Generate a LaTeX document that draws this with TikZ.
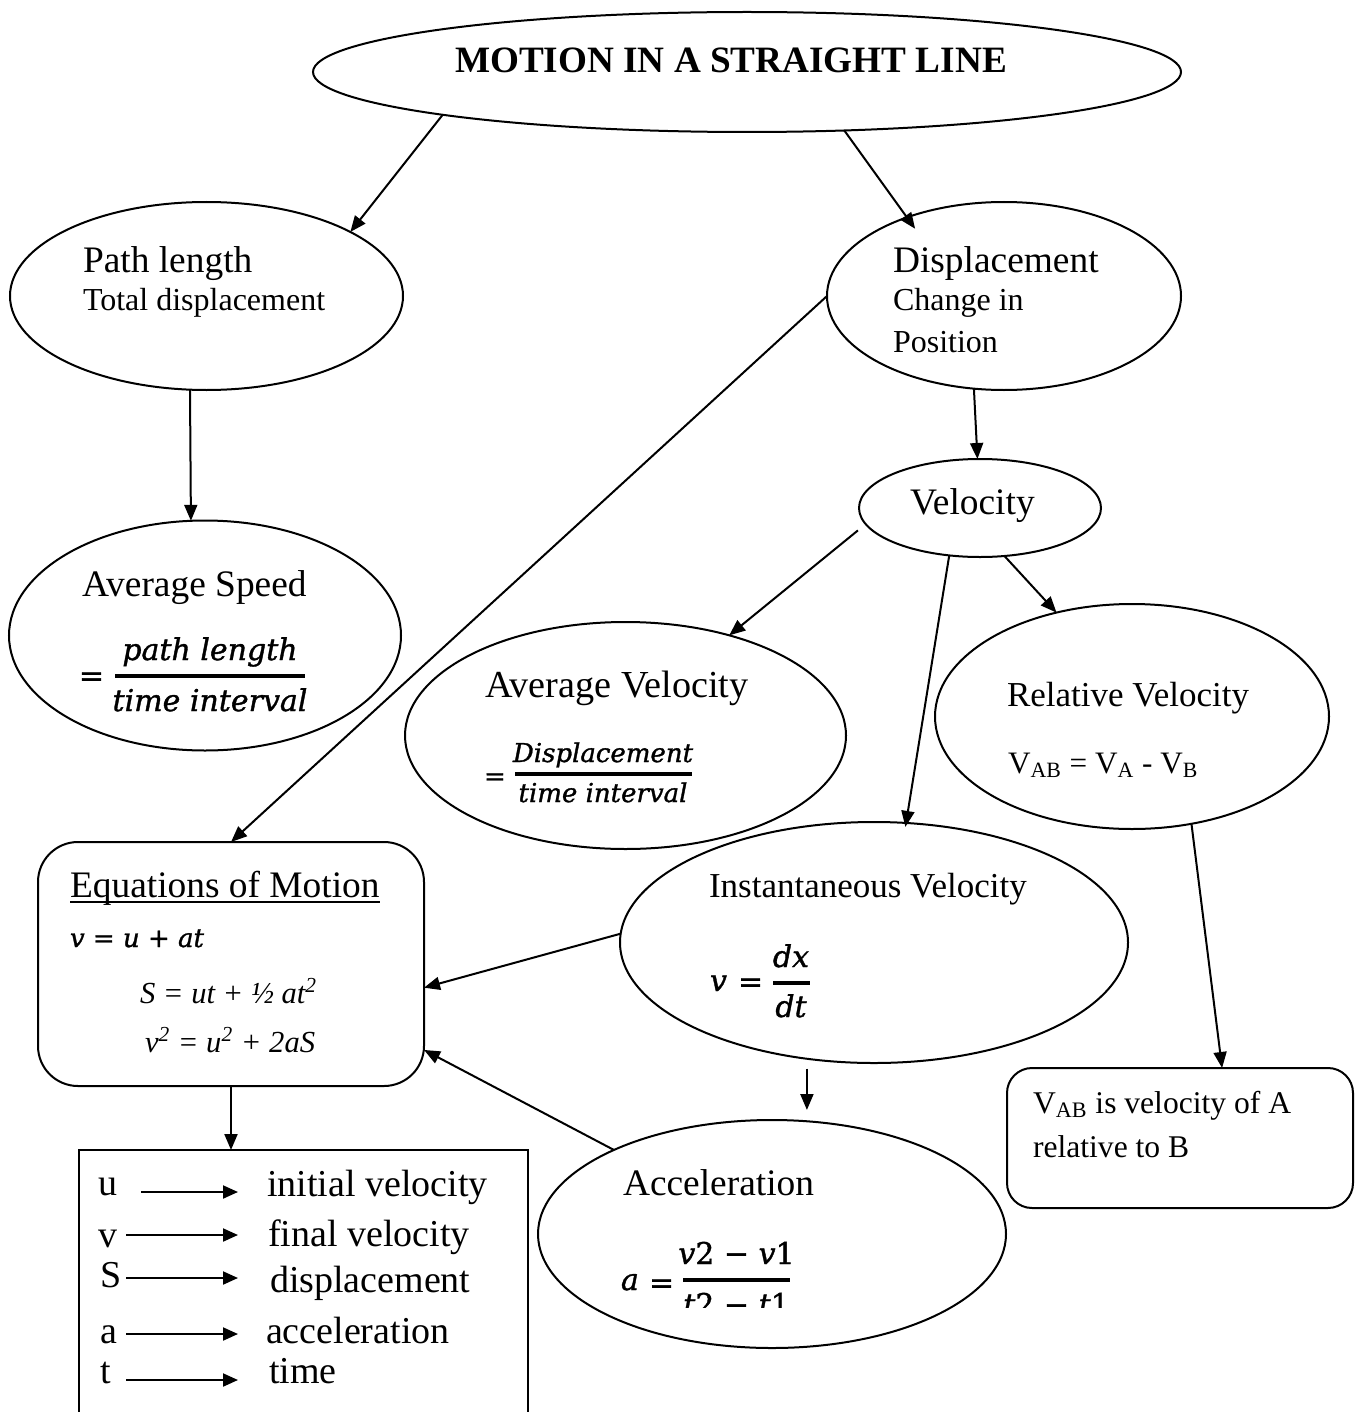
\documentclass[tikz,border=0pt]{standalone}
\usepackage{fontspec}
\setmainfont{Liberation Serif}
\newfontfamily\mf{DejaVu Serif}[UprightFeatures={FakeBold=1.2}, ItalicFeatures={FakeBold=1.2}]
\usetikzlibrary{shapes.geometric,arrows.meta}
\newcommand\sz[1]{\fontsize{#1pt}{#1pt}\selectfont}
\begin{document}
\begin{tikzpicture}[x=0.5pt,y=-0.5pt,
  ell/.style={draw, ellipse, line width=1pt, inner sep=0pt, outer sep=0pt},
  rbox/.style={draw, rectangle, line width=1pt, inner sep=0pt, outer sep=0pt},
  arr/.style={line width=1pt, -{Triangle[length=8pt,width=6.5pt]}},
  larr/.style={line width=1pt, -{Triangle[length=7.5pt,width=6.5pt]}},
  lbl/.style={inner sep=0pt, outer sep=0pt, anchor=base west},
  big/.style={lbl, font=\sz{18.7}},
  mid/.style={lbl, font=\sz{16}},
  legtxt/.style={lbl, font=\sz{19}},
  fml/.style={lbl, font=\mf\sz{15}},
  fracbar/.style={line width=2pt}]
\useasboundingbox (0,0) rectangle (1356,1412);

% ---------- shapes ----------
\node[ell, minimum width=434pt, minimum height=60pt] (title) at (747,72) {};
\node[ell, minimum width=196.5pt, minimum height=94pt] (pl) at (206.5,296) {};
\node[ell, minimum width=177pt, minimum height=94pt] (disp) at (1004,296) {};
\node[ell, minimum width=121pt, minimum height=49pt] (vel) at (980,508) {};
\node[ell, minimum width=196pt, minimum height=115pt] (as) at (205,635.5) {};
\node[ell, minimum width=220.5pt, minimum height=113.5pt] (avel) at (625.5,735.5) {};
\node[ell, minimum width=197pt, minimum height=112.5pt] (rel) at (1132,716.5) {};
\node[ell, minimum width=254pt, minimum height=120.5pt] (inst) at (874,942.5) {};
\node[ell, minimum width=234pt, minimum height=114pt] (acc) at (772,1234) {};
\node[rbox, rounded corners=20pt, minimum width=193pt, minimum height=122pt] (eq) at (231,964) {};
\node[rbox, rounded corners=12.5pt, minimum width=173pt, minimum height=70pt] (vab) at (1180,1138) {};
\node[inner sep=0pt, outer sep=0pt, minimum width=224.5pt, minimum height=131pt, anchor=north west] (leg) at (79,1150) {};
\draw[line width=1pt] (leg.south west) -- (leg.north west) -- (leg.north east) -- (leg.south east);

% ---------- texts ----------
\node[lbl, font=\bfseries\sz{18.6}] (titletxt) at (455,73) {MOTION IN A STRAIGHT LINE};

\node[big] (pl1) at (83,272) {Path length};
\node[mid] (pl2) at (83,310) {Total displacement};

\node[big] (disp1) at (893,272) {Displacement};
\node[mid] (disp2) at (893,310) {Change in};
\node[mid] (disp3) at (893,352) {Position};

\node[big] (veltxt) at (910,514) {Velocity};

\node[big] (astxt) at (82,596) {Average Speed};
\node[fml] (aseq) at (79,686) {=};
\node[fml, anchor=base] (asnum) at (210,660) {\itshape path length};
\node[fml, anchor=base] (asden) at (210,711) {\itshape time interval};
\draw[fracbar] (115,676) -- (305,676);

\node[lbl, font=\sz{19.1}] (aveltxt) at (485,697) {Average Velocity};
\node[fml, font=\mf\sz{13}] (aveleq) at (484,785) {=};
\node[fml, font=\mf\sz{13}, anchor=base] (avelnum) at (603,762) {\itshape Displacement};
\node[fml, font=\mf\sz{13}, anchor=base] (avelden) at (603,802) {\itshape time interval};
\draw[fracbar] (515,774) -- (692,774);

\node[lbl, font=\sz{17.5}] (rel1) at (1007,706) {Relative Velocity};
\node[lbl, font=\sz{15.6}] (rel2) at (1008,773) {V\textsubscript{AB} = V\textsubscript{A} - V\textsubscript{B}};

\node[lbl, font=\sz{17.5}] (insttxt) at (709,897) {Instantaneous Velocity};
\node[fml] (instv) at (710,991) {\itshape v};
\node[fml] (insteq) at (738,992) {=};
\node[fml, anchor=base] (instnum) at (791,967) {\itshape dx};
\node[fml, anchor=base] (instden) at (791,1017) {\itshape dt};
\draw[fracbar] (773,983) -- (810,983);

\node[big] (eqhead) at (70,897) {Equations of Motion};
\draw[line width=1pt] ([yshift=-2.5pt]eqhead.base west) -- ([yshift=-2.5pt]eqhead.base east);
\node[fml, font=\mf\sz{13}] (eq1) at (70,947) {\textit{v} = \textit{u} + \textit{at}};
\node[lbl, font=\itshape\sz{15.3}] (eq2) at (140,1003) {S = ut + ½ at\textsuperscript{2}};
\node[lbl, font=\itshape\sz{15.3}] (eq3) at (145,1052) {v\textsuperscript{2} = u\textsuperscript{2} + 2aS};

\node[big] (acctxt) at (623,1195) {Acceleration};
\node[fml] (acca) at (621,1290) {\itshape a};
\node[fml] (acceq) at (649,1293) {=};
\node[fml, anchor=base] (accnum) at (736.5,1264) {\textit{v}2 − \textit{v}1};
\draw[fracbar] (683,1280) -- (790,1280);
\begin{scope}
  \clip (670,1286) rectangle (800,1307);
  \node[fml, anchor=base] (accden) at (736.5,1315) {\textit{t}2 − \textit{t}1};
\end{scope}

\node[lbl, font=\sz{15.8}] (vab1) at (1033,1113) {V\textsubscript{AB} is velocity of A};
\node[lbl, font=\sz{15.8}] (vab2) at (1033,1157) {relative to B};

% ---------- legend ----------
\node[legtxt] (lu) at (98,1195) {u};
\node[legtxt] (lv) at (98,1247) {v};
\node[legtxt] (lS) at (100,1287) {S};
\node[legtxt] (la) at (100,1343) {a};
\node[legtxt] (lt) at (100,1383) {t};
\node[legtxt] (du) at (267,1196) {initial velocity};
\node[legtxt] (dv) at (268,1246) {final velocity};
\node[legtxt] (dS) at (270,1292) {displacement};
\node[legtxt] (da) at (266,1343) {acceleration};
\node[legtxt] (dt) at (269,1383) {time};
\coordinate (u1) at (141,1192); \coordinate (u2) at (238,1192);
\coordinate (v1) at (126,1235); \coordinate (v2) at (238,1235);
\coordinate (s1) at (126,1278); \coordinate (s2) at (238,1278);
\coordinate (a1) at (126,1334); \coordinate (a2) at (238,1334);
\coordinate (t1) at (126,1380); \coordinate (t2) at (238,1380);
\draw[larr] (u1) -- (u2);
\draw[larr] (v1) -- (v2);
\draw[larr] (s1) -- (s2);
\draw[larr] (a1) -- (a2);
\draw[larr] (t1) -- (t2);

% ---------- connectors ----------
\draw[arr] (title.188.7) -- (pl.24.1);
\draw[arr, shorten >=-7pt] (title.329) -- (disp.141.1);
\draw[arr] (pl.260.9) -- (as.97);
\draw[arr] (disp.252.6) -- (vel.93.5);
\draw[arr] (disp.west) -- (eq.north);
\draw[arr, shorten <=5pt] (vel.188.8) -- (avel.44.4);
\draw[arr, shorten >=-2pt] (vel.237.4) -- (inst.75.4);
\draw[arr] (vel.297.5) -- (rel.126.6);
\draw[arr] (rel.299.7) -- (vab.59);
\draw[arr] (inst.178.6) -- (eq.353);
\draw[arr, shorten <=5pt, shorten >=5pt] (inst.240.1) -- (inst.240.1 |- acc.north);
\draw[arr] (acc.152.5) -- (eq.336.8);
\draw[arr] (eq.south) -- (eq.south |- leg.north);
\end{tikzpicture}
\end{document}
